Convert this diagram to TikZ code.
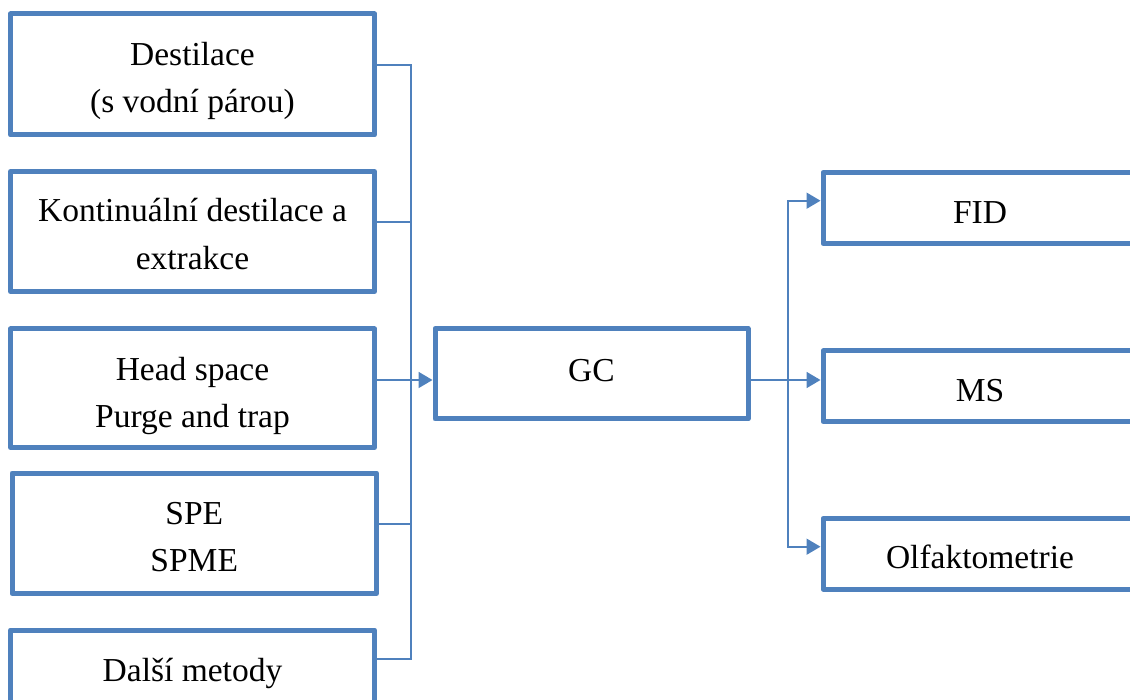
\documentclass[tikz,border=0pt]{standalone}
\usepackage{fontspec}
\setmainfont{Liberation Serif}
\usetikzlibrary{arrows.meta}

\definecolor{boxblue}{rgb}{0.310, 0.506, 0.741}

\tikzset{
  box/.style={draw=boxblue, line width=5pt, line join=round, fill=white,
              rectangle, inner sep=0pt},
  lbl/.style={anchor=north, yshift=33.25pt, inner sep=0pt, align=center,
              font=\fontsize{33.5}{47.5}\selectfont},
  conn/.style={draw=boxblue, line width=1.8pt},
  arr/.style={-{Triangle[length=14pt,width=16pt]}}
}

\begin{document}
\begin{tikzpicture}[x=1pt, y=-1pt]
\useasboundingbox (0,0) rectangle (1130,700);
\clip (0,0) rectangle (1130,700);

% sample preparation
\node[box, minimum width=364pt, minimum height=121pt] (dest) at (192.5,74.5) {};
\node[box, minimum width=364pt, minimum height=120pt] (kont) at (192.5,231.5) {};
\node[box, minimum width=364pt, minimum height=118.5pt] (head) at (192.5,388.25) {};
\node[box, minimum width=364.5pt, minimum height=120.5pt] (spe) at (194.25,533.25) {};
\node[box, minimum width=364pt, minimum height=121pt] (dalsi) at (192.5,690.5) {};

\node[lbl] (tdest) at (192.5,65) {\strut Destilace\\(s vodní párou)};
\node[lbl] (tkont) at (192.5,221.7) {\strut Kontinuální destilace a\\extrakce};
\node[lbl] (thead) at (192.5,380) {\strut Head space\\Purge and trap};
\node[lbl] (tspe) at (194.25,524) {\strut SPE\\SPME};
\node[lbl] (tdalsi) at (192.5,681.7) {\strut Další metody};

% separation
\node[box, minimum width=313pt, minimum height=90.5pt] (gc) at (591.5,373.75) {};
\node[lbl] (tgc) at (591.5,381) {\strut GC};

% detection
\node[box, minimum width=314pt, minimum height=71pt] (fid) at (980,208) {};
\node[box, minimum width=314pt, minimum height=70.5pt] (ms) at (980,386.25) {};
\node[box, minimum width=314pt, minimum height=70.5pt] (olf) at (980,553.75) {};

\node[lbl] (tfid) at (980,223.3) {\strut FID};
\node[lbl] (tms) at (980,401) {\strut MS};
\node[lbl] (tolf) at (980,568.3) {\strut Olfaktometrie};

% left bus
\coordinate (bus1) at (411,65);
\coordinate (bus2) at (411,222);
\coordinate (bus3) at (411,380);
\coordinate (bus4) at (411,524);
\coordinate (bus5) at (411,659);

\draw[conn] (dest.east |- bus1) -- (bus1) -- (bus5) -- (dalsi.east |- bus5);
\draw[conn] (kont.east |- bus2) -- (bus2);
\draw[conn] (spe.east |- bus4) -- (bus4);
\draw[conn, arr] (head.east |- bus3) -- (gc.west |- bus3);

% right bus
\coordinate (rbus1) at (787.7,200.7);
\coordinate (rbus2) at (787.7,380);
\coordinate (rbus3) at (787.7,546.7);

\draw[conn, arr] (gc.east |- rbus2) -- (ms.west |- rbus2);
\draw[conn, arr] (rbus2) -- (rbus1) -- (fid.west |- rbus1);
\draw[conn, arr] (rbus2) -- (rbus3) -- (olf.west |- rbus3);
\end{tikzpicture}
\end{document}
